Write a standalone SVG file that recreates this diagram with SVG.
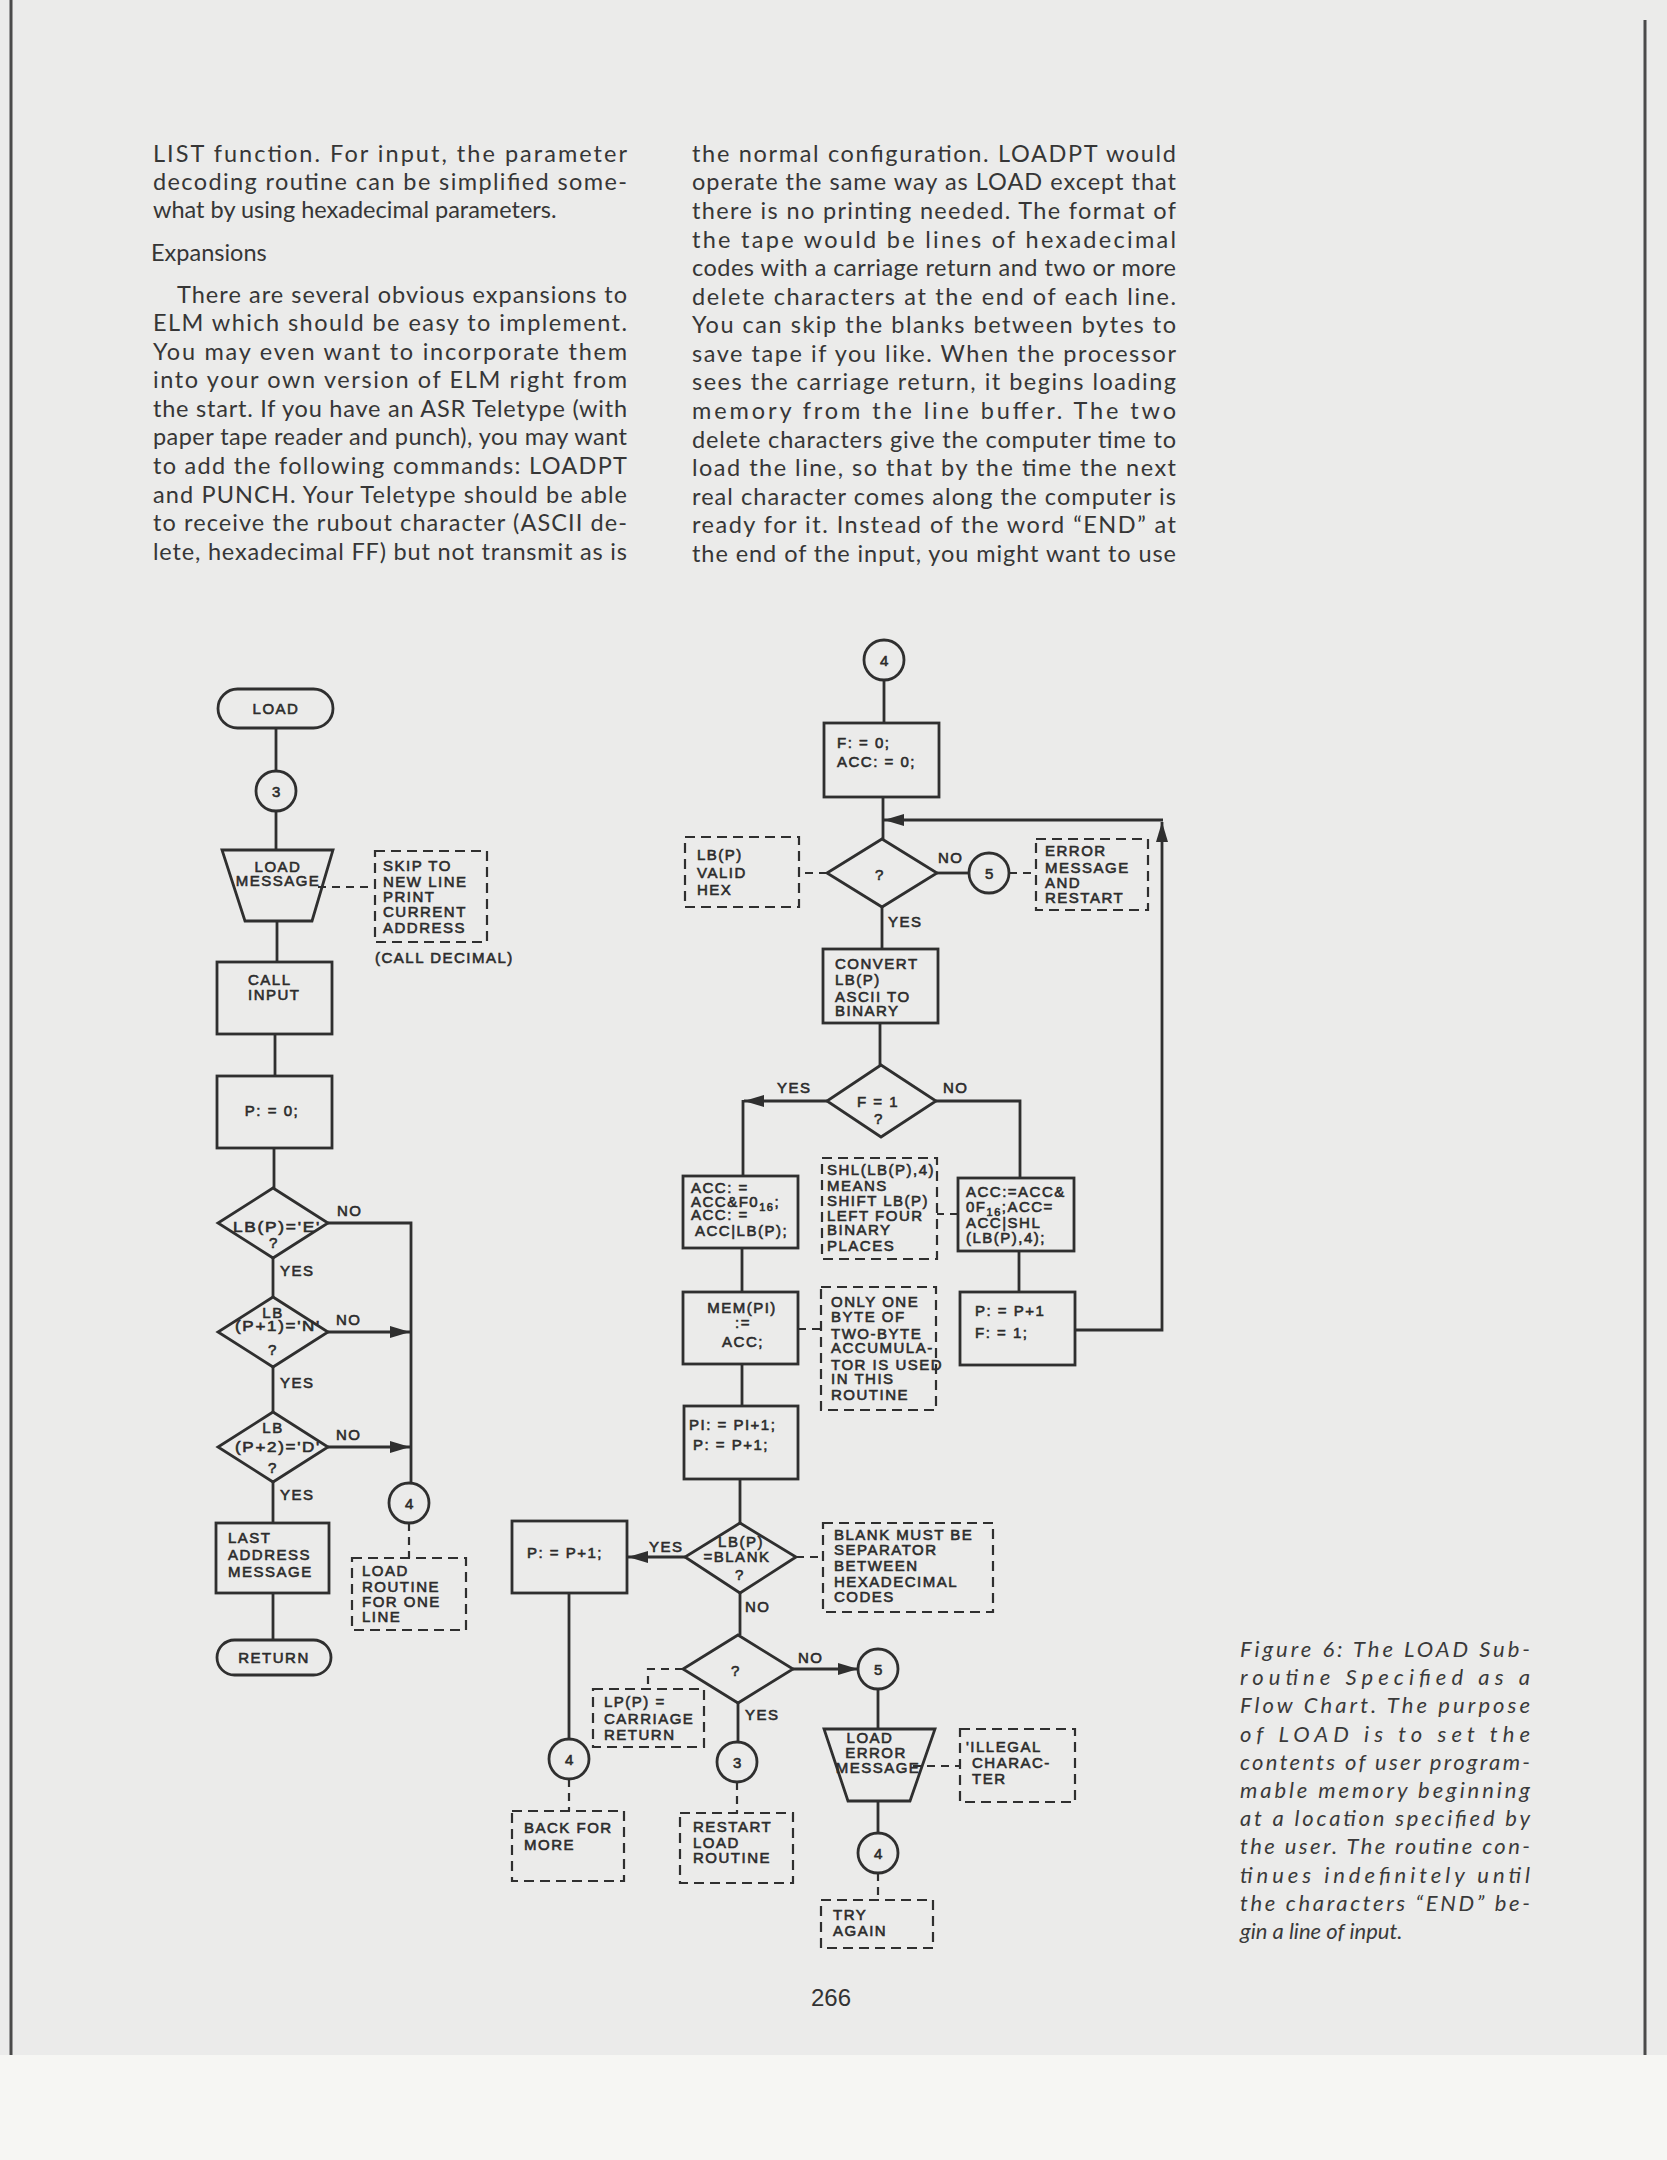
<svg xmlns="http://www.w3.org/2000/svg" width="1667" height="2160" viewBox="0 0 1667 2160">
<style>
.body{font-family:Lato,"Open Sans","Liberation Sans",sans-serif;font-size:23.5px;fill:#363636}
.cap{font-family:Lato,"Open Sans","Liberation Sans",sans-serif;font-size:22px;font-style:italic;fill:#3a3a3a}
.fc{font-family:"Liberation Sans",Arial,sans-serif;font-size:15px;fill:#2c2c2c;stroke:#2c2c2c;stroke-width:0.6;letter-spacing:1.5px}
.mid{text-anchor:middle}
.shape{fill:none;stroke:#2f2f2f;stroke-width:2.8}
.note{fill:none;stroke:#2f2f2f;stroke-width:2.2;stroke-dasharray:10 6}
.conn{fill:none;stroke:#2f2f2f;stroke-width:2.8}
.dash{fill:none;stroke:#2f2f2f;stroke-width:2.2;stroke-dasharray:8 6}
.sub{font-size:11px}
</style>
<defs>
<marker id="ah" viewBox="0 0 20 12" refX="20" refY="6" markerWidth="20" markerHeight="12" orient="auto" markerUnits="userSpaceOnUse"><path d="M0,0 L20,6 L0,12 z" fill="#2f2f2f"/></marker>
</defs>
<rect x="0" y="0" width="1667" height="2160" fill="#f6f6f3"/>
<rect x="0" y="0" width="1667" height="2055" fill="#ebebea"/>
<line x1="11" y1="0" x2="11" y2="2055" stroke="#4a4a4a" stroke-width="3"/>
<line x1="1645" y1="20" x2="1645" y2="2055" stroke="#4a4a4a" stroke-width="3"/>

<g id="article-text" class="body">
<text x="153" y="162" textLength="474" lengthAdjust="spacing">LIST function. For input, the parameter</text>
<text x="153" y="190" textLength="474" lengthAdjust="spacing">decoding routine can be simplified some-</text>
<text x="153" y="218">what by using hexadecimal parameters.</text>
<text x="151" y="261">Expansions</text>
<text x="177" y="303" textLength="450" lengthAdjust="spacing">There are several obvious expansions to</text>
<text x="153" y="331" textLength="474" lengthAdjust="spacing">ELM which should be easy to implement.</text>
<text x="153" y="360" textLength="474" lengthAdjust="spacing">You may even want to incorporate them</text>
<text x="153" y="388" textLength="474" lengthAdjust="spacing">into your own version of ELM right from</text>
<text x="153" y="417" textLength="474" lengthAdjust="spacing">the start. If you have an ASR Teletype (with</text>
<text x="153" y="445" textLength="474" lengthAdjust="spacing">paper tape reader and punch), you may want</text>
<text x="153" y="474" textLength="474" lengthAdjust="spacing">to add the following commands: LOADPT</text>
<text x="153" y="503" textLength="474" lengthAdjust="spacing">and PUNCH. Your Teletype should be able</text>
<text x="153" y="531" textLength="474" lengthAdjust="spacing">to receive the rubout character (ASCII de-</text>
<text x="153" y="560" textLength="474" lengthAdjust="spacing">lete, hexadecimal FF) but not transmit as is</text>

<text x="692" y="162" textLength="484" lengthAdjust="spacing">the normal configuration. LOADPT would</text>
<text x="692" y="190" textLength="484" lengthAdjust="spacing">operate the same way as LOAD except that</text>
<text x="692" y="219" textLength="484" lengthAdjust="spacing">there is no printing needed. The format of</text>
<text x="692" y="248" textLength="484" lengthAdjust="spacing">the tape would be lines of hexadecimal</text>
<text x="692" y="276" textLength="484" lengthAdjust="spacing">codes with a carriage return and two or more</text>
<text x="692" y="305" textLength="484" lengthAdjust="spacing">delete characters at the end of each line.</text>
<text x="692" y="333" textLength="484" lengthAdjust="spacing">You can skip the blanks between bytes to</text>
<text x="692" y="362" textLength="484" lengthAdjust="spacing">save tape if you like. When the processor</text>
<text x="692" y="390" textLength="484" lengthAdjust="spacing">sees the carriage return, it begins loading</text>
<text x="692" y="419" textLength="484" lengthAdjust="spacing">memory from the line buffer. The two</text>
<text x="692" y="448" textLength="484" lengthAdjust="spacing">delete characters give the computer time to</text>
<text x="692" y="476" textLength="484" lengthAdjust="spacing">load the line, so that by the time the next</text>
<text x="692" y="505" textLength="484" lengthAdjust="spacing">real character comes along the computer is</text>
<text x="692" y="533" textLength="484" lengthAdjust="spacing">ready for it. Instead of the word “END” at</text>
<text x="692" y="562" textLength="484" lengthAdjust="spacing">the end of the input, you might want to use</text>
</g>

<g id="caption" class="cap">
<text x="1240" y="1657" textLength="290" lengthAdjust="spacing">Figure 6: The LOAD Sub-</text>
<text x="1240" y="1685" textLength="290" lengthAdjust="spacing">routine Specified as a</text>
<text x="1240" y="1713" textLength="290" lengthAdjust="spacing">Flow Chart. The purpose</text>
<text x="1240" y="1742" textLength="290" lengthAdjust="spacing">of LOAD is to set the</text>
<text x="1240" y="1770" textLength="290" lengthAdjust="spacing">contents of user program-</text>
<text x="1240" y="1798" textLength="290" lengthAdjust="spacing">mable memory beginning</text>
<text x="1240" y="1826" textLength="290" lengthAdjust="spacing">at a location specified by</text>
<text x="1240" y="1854" textLength="290" lengthAdjust="spacing">the user. The routine con-</text>
<text x="1240" y="1883" textLength="290" lengthAdjust="spacing">tinues indefinitely until</text>
<text x="1240" y="1911" textLength="290" lengthAdjust="spacing">the characters “END” be-</text>
<text x="1240" y="1939">gin a line of input.</text>
</g>

<text id="page-number" x="831" y="2006" text-anchor="middle" font-family="'Liberation Sans',Arial,sans-serif" font-size="24" fill="#333">266</text>

<g id="connectors">
<line class="conn" x1="276" y1="728" x2="276" y2="771"/>
<line class="conn" x1="276" y1="811" x2="276" y2="850"/>
<line class="conn" x1="277" y1="921" x2="277" y2="962"/>
<line class="conn" x1="275" y1="1034" x2="275" y2="1076"/>
<line class="conn" x1="274" y1="1148" x2="274" y2="1188"/>
<line class="conn" x1="273" y1="1258" x2="273" y2="1297"/>
<line class="conn" x1="273" y1="1367" x2="273" y2="1412"/>
<line class="conn" x1="273" y1="1482" x2="273" y2="1523"/>
<line class="conn" x1="273" y1="1593" x2="273" y2="1640"/>
<path class="conn" d="M328,1223 H411 V1483"/>
<line class="conn" x1="328" y1="1332" x2="410" y2="1332" marker-end="url(#ah)"/>
<line class="conn" x1="328" y1="1447" x2="410" y2="1447" marker-end="url(#ah)"/>
<line class="dash" x1="318" y1="887" x2="375" y2="887"/>
<line class="dash" x1="409" y1="1523" x2="409" y2="1558"/>

<line class="conn" x1="884" y1="680" x2="884" y2="723"/>
<line class="conn" x1="883" y1="797" x2="883" y2="839"/>
<line class="conn" x1="937" y1="873" x2="969" y2="873"/>
<line class="conn" x1="882" y1="907" x2="882" y2="949"/>
<line class="conn" x1="880" y1="1023" x2="880" y2="1065"/>
<line class="conn" x1="827" y1="1101" x2="744" y2="1101" marker-end="url(#ah)"/>
<line class="conn" x1="743" y1="1100" x2="743" y2="1176"/>
<path class="conn" d="M936,1101 H1020 V1178"/>
<line class="conn" x1="1019" y1="1251" x2="1019" y2="1292"/>
<path class="conn" d="M1075,1330 H1162 V822" marker-end="url(#ah)"/>
<line class="conn" x1="1163" y1="820" x2="884" y2="820" marker-end="url(#ah)"/>
<line class="conn" x1="742" y1="1248" x2="742" y2="1292"/>
<line class="conn" x1="742" y1="1364" x2="742" y2="1406"/>
<line class="conn" x1="740" y1="1479" x2="740" y2="1523"/>
<line class="conn" x1="685" y1="1557" x2="628" y2="1557" marker-end="url(#ah)"/>
<line class="conn" x1="740" y1="1593" x2="740" y2="1635"/>
<line class="conn" x1="569" y1="1593" x2="569" y2="1739"/>
<line class="conn" x1="793" y1="1669" x2="858" y2="1669" marker-end="url(#ah)"/>
<line class="conn" x1="878" y1="1689" x2="878" y2="1729"/>
<line class="conn" x1="738" y1="1703" x2="738" y2="1742"/>
<line class="conn" x1="878" y1="1801" x2="878" y2="1833"/>

<line class="dash" x1="827" y1="873" x2="799" y2="873"/>
<line class="dash" x1="1009" y1="873" x2="1036" y2="873"/>
<line class="dash" x1="958" y1="1214" x2="937" y2="1214"/>
<line class="dash" x1="798" y1="1329" x2="821" y2="1329"/>
<line class="dash" x1="796" y1="1557" x2="823" y2="1557"/>
<path class="dash" d="M683,1669 H648 V1689"/>
<line class="dash" x1="737" y1="1782" x2="737" y2="1813"/>
<line class="dash" x1="569" y1="1779" x2="569" y2="1811"/>
<line class="dash" x1="913" y1="1766" x2="960" y2="1766"/>
<line class="dash" x1="878" y1="1873" x2="878" y2="1900"/>

<g class="fc">
<text x="337" y="1216">NO</text>
<text x="280" y="1276">YES</text>
<text x="336" y="1325">NO</text>
<text x="280" y="1388">YES</text>
<text x="336" y="1440">NO</text>
<text x="280" y="1500">YES</text>
<text x="938" y="863">NO</text>
<text x="888" y="927">YES</text>
<text x="777" y="1093">YES</text>
<text x="943" y="1093">NO</text>
<text x="649" y="1552">YES</text>
<text x="745" y="1612">NO</text>
<text x="798" y="1663">NO</text>
<text x="745" y="1720">YES</text>
</g>
</g>

<g id="load-start"><rect class="shape" x="218" y="689" width="115" height="39" rx="19.5"/><text class="fc mid" x="276" y="714">LOAD</text></g>
<g id="conn3-top"><circle class="shape" cx="276" cy="791" r="20"/><text class="fc mid" x="277" y="797">3</text></g>
<g id="load-message"><polygon class="shape" points="222,850 333,850 312,921 245,921"/><text class="fc mid" x="278" y="872">LOAD</text><text class="fc mid" x="278" y="886" letter-spacing="0">MESSAGE</text></g>
<g id="note-skip"><rect class="note" x="375" y="851" width="112" height="91"/>
<text class="fc" x="383" y="871">SKIP TO</text><text class="fc" x="383" y="887">NEW LINE</text><text class="fc" x="383" y="902">PRINT</text><text class="fc" x="383" y="917">CURRENT</text><text class="fc" x="383" y="933">ADDRESS</text>
<text class="fc" x="375" y="963">(CALL DECIMAL)</text></g>
<g id="call-input"><rect class="shape" x="217" y="962" width="115" height="72"/><text class="fc" x="248" y="985">CALL</text><text class="fc" x="248" y="1000">INPUT</text></g>
<g id="p-init"><rect class="shape" x="217" y="1076" width="115" height="72"/><text class="fc mid" x="272" y="1116">P: = 0;</text></g>
<g id="dec-e"><polygon class="shape" points="273,1188 328,1223 273,1258 218,1223"/><text class="fc" x="233" y="1232" textLength="88" lengthAdjust="spacingAndGlyphs">LB(P)='E'</text><text class="fc mid" x="274" y="1248">?</text></g>
<g id="dec-n"><polygon class="shape" points="273,1297 328,1332 273,1367 218,1332"/><text class="fc mid" x="273" y="1318">LB</text><text class="fc" x="235" y="1331" textLength="86" lengthAdjust="spacingAndGlyphs">(P+1)='N'</text><text class="fc mid" x="273" y="1355">?</text></g>
<g id="dec-d"><polygon class="shape" points="273,1412 328,1447 273,1482 218,1447"/><text class="fc mid" x="273" y="1433">LB</text><text class="fc" x="235" y="1452" textLength="86" lengthAdjust="spacingAndGlyphs">(P+2)='D'</text><text class="fc mid" x="273" y="1473">?</text></g>
<g id="last-address"><rect class="shape" x="216" y="1523" width="113" height="70"/><text class="fc" x="228" y="1543">LAST</text><text class="fc" x="228" y="1560">ADDRESS</text><text class="fc" x="228" y="1577">MESSAGE</text></g>
<g id="return"><rect class="shape" x="217" y="1640" width="114" height="35" rx="17.5"/><text class="fc mid" x="274" y="1663">RETURN</text></g>
<g id="conn4-left"><circle class="shape" cx="409" cy="1503" r="20"/><text class="fc mid" x="410" y="1509">4</text></g>
<g id="note-load-line"><rect class="note" x="352" y="1558" width="114" height="72"/><text class="fc" x="362" y="1576">LOAD</text><text class="fc" x="362" y="1592">ROUTINE</text><text class="fc" x="362" y="1607">FOR ONE</text><text class="fc" x="362" y="1622">LINE</text></g>

<g id="conn4-top"><circle class="shape" cx="884" cy="660" r="20"/><text class="fc mid" x="885" y="666">4</text></g>
<g id="f-init"><rect class="shape" x="824" y="723" width="115" height="74"/><text class="fc" x="837" y="748">F: = 0;</text><text class="fc" x="837" y="767">ACC: = 0;</text></g>
<g id="dec-valid"><polygon class="shape" points="882,839 937,873 882,907 827,873"/><text class="fc mid" x="880" y="880">?</text></g>
<g id="note-valid"><rect class="note" x="685" y="837" width="114" height="70"/><text class="fc" x="697" y="860">LB(P)</text><text class="fc" x="697" y="878">VALID</text><text class="fc" x="697" y="895">HEX</text></g>
<g id="conn5-top"><circle class="shape" cx="989" cy="873" r="20"/><text class="fc mid" x="990" y="879">5</text></g>
<g id="note-error"><rect class="note" x="1036" y="839" width="112" height="71"/><text class="fc" x="1045" y="856">ERROR</text><text class="fc" x="1045" y="873">MESSAGE</text><text class="fc" x="1045" y="888">AND</text><text class="fc" x="1045" y="903">RESTART</text></g>
<g id="convert"><rect class="shape" x="823" y="949" width="115" height="74"/><text class="fc" x="835" y="969">CONVERT</text><text class="fc" x="835" y="985">LB(P)</text><text class="fc" x="835" y="1002">ASCII TO</text><text class="fc" x="835" y="1016">BINARY</text></g>
<g id="dec-f"><polygon class="shape" points="881,1065 936,1101 881,1137 827,1101"/><text class="fc mid" x="878" y="1107">F = 1</text><text class="fc mid" x="879" y="1124">?</text></g>
<g id="acc-left"><rect class="shape" x="683" y="1176" width="115" height="72"/><text class="fc" x="691" y="1193">ACC: =</text><text class="fc" x="691" y="1207" letter-spacing="0.5">ACC&amp;F0<tspan class="sub" dy="4">16</tspan><tspan dy="-4">;</tspan></text><text class="fc" x="691" y="1220">ACC: =</text><text class="fc" x="695" y="1236" letter-spacing="0.5">ACC|LB(P);</text></g>
<g id="note-shl"><rect class="note" x="822" y="1158" width="115" height="101"/><text class="fc" x="827" y="1175" letter-spacing="0.3">SHL(LB(P),4)</text><text class="fc" x="827" y="1191">MEANS</text><text class="fc" x="827" y="1206" letter-spacing="0.5">SHIFT LB(P)</text><text class="fc" x="827" y="1221">LEFT FOUR</text><text class="fc" x="827" y="1235">BINARY</text><text class="fc" x="827" y="1251">PLACES</text></g>
<g id="acc-right"><rect class="shape" x="958" y="1178" width="116" height="73"/><text class="fc" x="966" y="1197" letter-spacing="1">ACC:=ACC&amp;</text><text class="fc" x="966" y="1212" letter-spacing="0.8">0F<tspan class="sub" dy="4">16</tspan><tspan dy="-4">;ACC=</tspan></text><text class="fc" x="966" y="1228">ACC|SHL</text><text class="fc" x="966" y="1243" letter-spacing="2">(LB(P),4);</text></g>
<g id="p-f-set"><rect class="shape" x="960" y="1292" width="115" height="73"/><text class="fc" x="975" y="1316">P: = P+1</text><text class="fc" x="975" y="1338">F: = 1;</text></g>
<g id="mem-store"><rect class="shape" x="683" y="1292" width="115" height="72"/><text class="fc mid" x="742" y="1313">MEM(PI)</text><text class="fc mid" x="743" y="1328">:=</text><text class="fc mid" x="743" y="1347">ACC;</text></g>
<g id="note-byte"><rect class="note" x="821" y="1287" width="115" height="123"/><text class="fc" x="831" y="1307">ONLY ONE</text><text class="fc" x="831" y="1322">BYTE OF</text><text class="fc" x="831" y="1339">TWO-BYTE</text><text class="fc" x="831" y="1353" letter-spacing="0.5">ACCUMULA-</text><text class="fc" x="831" y="1370" letter-spacing="0.2">TOR IS USED</text><text class="fc" x="831" y="1384">IN THIS</text><text class="fc" x="831" y="1400">ROUTINE</text></g>
<g id="pi-inc"><rect class="shape" x="684" y="1406" width="114" height="73"/><text class="fc" x="689" y="1430">PI: = PI+1;</text><text class="fc" x="693" y="1450">P: = P+1;</text></g>
<g id="dec-blank"><polygon class="shape" points="740,1523 796,1557 740,1593 685,1557"/><text class="fc mid" x="741" y="1547" letter-spacing="0.5">LB(P)</text><text class="fc mid" x="737" y="1562" letter-spacing="0.8">=BLANK</text><text class="fc mid" x="740" y="1580">?</text></g>
<g id="p-inc-left"><rect class="shape" x="512" y="1521" width="115" height="72"/><text class="fc" x="527" y="1558">P: = P+1;</text></g>
<g id="note-blank"><rect class="note" x="823" y="1523" width="170" height="89"/><text class="fc" x="834" y="1540" letter-spacing="2">BLANK MUST BE</text><text class="fc" x="834" y="1555">SEPARATOR</text><text class="fc" x="834" y="1571">BETWEEN</text><text class="fc" x="834" y="1587">HEXADECIMAL</text><text class="fc" x="834" y="1602">CODES</text></g>
<g id="dec-cr"><polygon class="shape" points="738,1635 793,1669 738,1703 683,1669"/><text class="fc mid" x="736" y="1676">?</text></g>
<g id="note-cr"><rect class="note" x="593" y="1689" width="111" height="58"/><text class="fc" x="604" y="1707">LP(P) =</text><text class="fc" x="604" y="1724">CARRIAGE</text><text class="fc" x="604" y="1740">RETURN</text></g>
<g id="conn5-bottom"><circle class="shape" cx="878" cy="1669" r="20"/><text class="fc mid" x="879" y="1675">5</text></g>
<g id="load-error"><polygon class="shape" points="824,1729 935,1729 910,1801 848,1801"/><text class="fc mid" x="870" y="1743">LOAD</text><text class="fc mid" x="876" y="1758">ERROR</text><text class="fc mid" x="878" y="1773" letter-spacing="0">MESSAGE</text></g>
<g id="note-illegal"><rect class="note" x="960" y="1729" width="115" height="73"/><text class="fc" x="966" y="1752">'ILLEGAL</text><text class="fc" x="972" y="1768">CHARAC-</text><text class="fc" x="972" y="1784">TER</text></g>
<g id="conn3-bottom"><circle class="shape" cx="737" cy="1762" r="20"/><text class="fc mid" x="738" y="1768">3</text></g>
<g id="note-restart"><rect class="note" x="680" y="1813" width="113" height="70"/><text class="fc" x="693" y="1832">RESTART</text><text class="fc" x="693" y="1848">LOAD</text><text class="fc" x="693" y="1863">ROUTINE</text></g>
<g id="conn4-bottom-left"><circle class="shape" cx="569" cy="1759" r="20"/><text class="fc mid" x="570" y="1765">4</text></g>
<g id="note-back"><rect class="note" x="512" y="1811" width="112" height="70"/><text class="fc" x="524" y="1833">BACK FOR</text><text class="fc" x="524" y="1850">MORE</text></g>
<g id="conn4-bottom-right"><circle class="shape" cx="878" cy="1853" r="20"/><text class="fc mid" x="879" y="1859">4</text></g>
<g id="note-try"><rect class="note" x="821" y="1900" width="112" height="48"/><text class="fc" x="833" y="1920">TRY</text><text class="fc" x="833" y="1936">AGAIN</text></g>
</svg>
